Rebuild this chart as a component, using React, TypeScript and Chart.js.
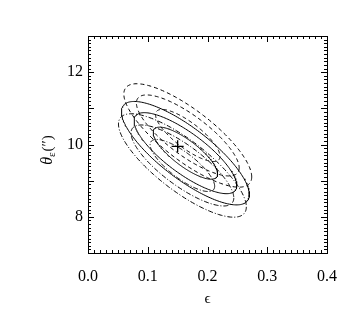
import { useEffect, useRef } from "react";
import { Chart, registerables } from "chart.js";

Chart.register(...registerables);

// ---- data ----
const xTickValues = [0.0, 0.1, 0.2, 0.3, 0.4];
const yTickLabelValues = [8, 10, 12];
const xRange = [0.0, 0.4];
const yRange = [7, 13];

// ellipse families: solid, dashed, dash-dot (centres)
const familyNames = ["solid", "dashed", "dashdot"];
const familyCenterX = [0.163, 0.167, 0.158];
const familyCenterY = [9.76, 10.25, 9.42];
// confidence levels (inner, middle, outer): half extents & correlation
const levelHalfX = [0.054, 0.086, 0.107];
const levelHalfY = [0.72, 1.12, 1.43];
const levelCorr = [-0.8, -0.8, -0.8];

const truthX = [0.15];
const truthY = [9.95];

// ---- styles ----
const familyDash: Record<string, number[]> = {
  solid: [],
  dashed: [4, 3],
  dashdot: [5, 2, 1, 2],
};

function ellipse(cx: number, cy: number, sx: number, sy: number, rho: number) {
  const d = Math.acos(rho);
  const pts: { x: number; y: number }[] = [];
  const n = 200;
  for (let i = 0; i <= n; i++) {
    const t = (2 * Math.PI * i) / n;
    pts.push({ x: cx + sx * Math.cos(t), y: cy + sy * Math.cos(t + d) });
  }
  return pts;
}

const SERIF = "'Liberation Serif', 'DejaVu Serif', serif";

const axesPlugin = {
  id: "idlAxes",
  afterDraw(chart: any) {
    const ctx = chart.ctx as CanvasRenderingContext2D;
    const { left, right, top, bottom } = chart.chartArea;
    const xs = chart.scales.x;
    const ys = chart.scales.y;
    ctx.save();
    ctx.strokeStyle = "#000";
    ctx.lineWidth = 1;
    ctx.setLineDash([]);
    ctx.strokeRect(left + 0.5, top + 0.5, right - left, bottom - top);

    const line = (x1: number, y1: number, x2: number, y2: number) => {
      ctx.beginPath();
      ctx.moveTo(x1, y1);
      ctx.lineTo(x2, y2);
      ctx.stroke();
    };
    // x ticks (minor 0.01, major 0.1)
    for (let i = 0; i <= 40; i++) {
      const v = xRange[0] + i * 0.01;
      const px = Math.round(xs.getPixelForValue(v)) + 0.5;
      const len = i % 10 === 0 ? 6 : 3;
      line(px, bottom, px, bottom - len);
      line(px, top, px, top + len);
    }
    // y ticks (minor 0.1, major 1)
    for (let i = 0; i <= 60; i++) {
      const v = yRange[0] + i * 0.1;
      const py = Math.round(ys.getPixelForValue(v)) + 0.5;
      const len = i % 10 === 0 ? 6 : 3;
      line(left, py, left + len, py);
      line(right, py, right - len, py);
    }

    ctx.fillStyle = "#000";
    ctx.font = `16px ${SERIF}`;
    ctx.textAlign = "center";
    ctx.textBaseline = "middle";
    xTickValues.forEach((v) => {
      ctx.fillText(v.toFixed(1), xs.getPixelForValue(v), bottom + 24);
    });
    ctx.textAlign = "right";
    yTickLabelValues.forEach((v) => {
      ctx.fillText(String(v), left - 5, ys.getPixelForValue(v));
    });

    // x title
    ctx.textAlign = "center";
    ctx.font = `15px ${SERIF}`;
    ctx.fillText("\u03F5", (left + right) / 2, bottom + 46);

    // y title: θ_ε('')
    ctx.translate(47, 150);
    ctx.rotate(-Math.PI / 2);
    ctx.textAlign = "left";
    ctx.textBaseline = "alphabetic";
    const big = `italic 16px ${SERIF}`;
    const small = `11px ${SERIF}`;
    const reg = `15px ${SERIF}`;
    ctx.font = big;
    const w1 = ctx.measureText("\u03B8").width;
    ctx.font = small;
    const w2 = ctx.measureText("\u03B5").width;
    ctx.font = reg;
    const w3 = ctx.measureText("(\u2033)").width;
    let x0 = -(w1 + w2 + 1 + w3) / 2;
    const base = 5;
    ctx.font = big;
    ctx.fillText("\u03B8", x0, base);
    x0 += w1;
    ctx.font = small;
    ctx.fillText("\u03B5", x0, base + 3);
    x0 += w2 + 1;
    ctx.font = reg;
    ctx.fillText("(\u2033)", x0, base);
    ctx.restore();
  },
};

export default function App() {
  const ref = useRef<HTMLCanvasElement>(null);
  useEffect(() => {
    if (!ref.current) return;
    const datasets: any[] = [];
    familyNames.forEach((fam, fi) => {
      levelHalfX.forEach((hx, li) => {
        datasets.push({
          label: `${fam}-${li + 1}`,
          data: ellipse(familyCenterX[fi], familyCenterY[fi], hx, levelHalfY[li], levelCorr[li]),
          showLine: true,
          pointRadius: 0,
          borderColor: "#000",
          borderWidth: 1,
          borderDash: familyDash[fam],
          fill: false,
          tension: 0,
        });
      });
    });
    datasets.push({
      label: "truth",
      data: truthX.map((x, i) => ({ x, y: truthY[i] })),
      showLine: false,
      pointStyle: "cross",
      pointRadius: 6,
      borderColor: "#000",
      borderWidth: 1.3,
    });
    const chart = new Chart(ref.current, {
      type: "scatter",
      data: { datasets },
      options: {
        animation: false,
        responsive: false,
        events: [],
        layout: { padding: { left: 88, top: 36, right: 27, bottom: 74 } },
        plugins: { legend: { display: false }, tooltip: { enabled: false } },
        scales: {
          x: { type: "linear", min: xRange[0], max: xRange[1], display: false },
          y: { type: "linear", min: yRange[0], max: yRange[1], display: false },
        },
      },
      plugins: [axesPlugin],
    });
    return () => chart.destroy();
  }, []);
  return (
    <div style={{ position: "fixed", left: 0, top: 0, width: 354, height: 327, background: "#fff" }}>
      <canvas ref={ref} width={354} height={327} style={{ width: 354, height: 327 }} />
    </div>
  );
}
